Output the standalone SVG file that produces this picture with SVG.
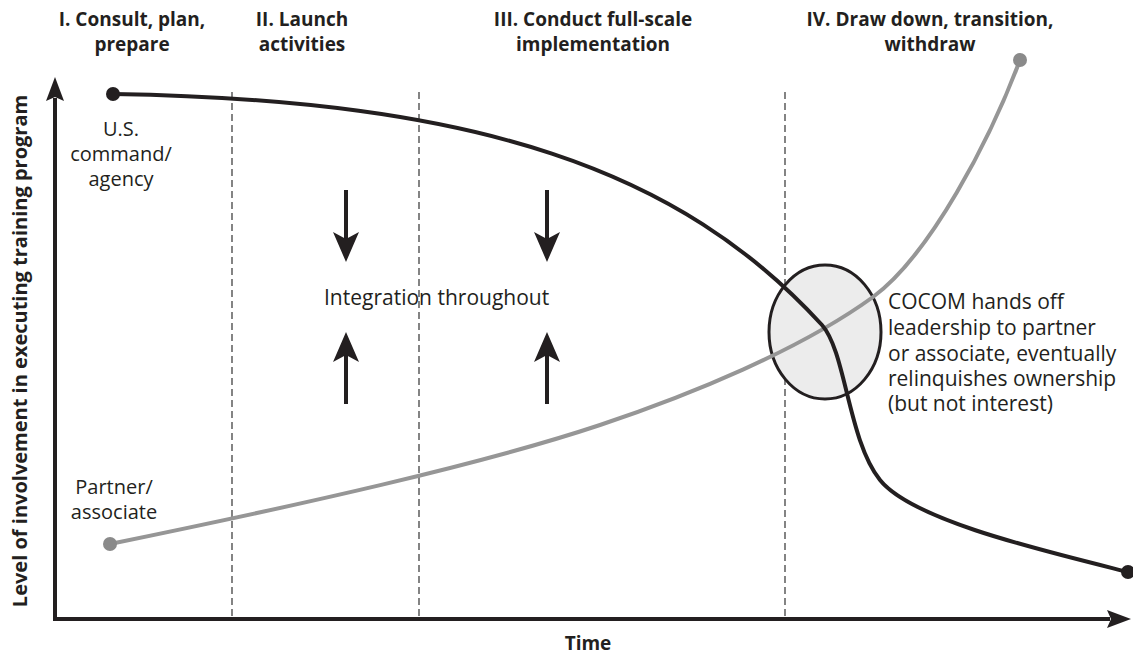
<svg xmlns="http://www.w3.org/2000/svg" width="1133" height="656" viewBox="0 0 1133 656">
<style>
.hdr{font-family:"Open Sans","Noto Sans",sans-serif;font-weight:bold;font-size:19px;fill:#231f20;text-anchor:middle}
.lbl{font-family:"Open Sans","Noto Sans",sans-serif;font-size:20px;fill:#231f20}
.big{font-size:21px}
.mid{text-anchor:middle}
.dash{stroke:#333;stroke-width:1.2;stroke-dasharray:7 4;fill:none}
.axis{stroke:#231f20;stroke-width:4;fill:none}
.blk{stroke:#231f20;stroke-width:4;fill:none}
.gry{stroke:#969696;stroke-width:4;fill:none}
.ah{fill:#231f20}
</style>
<defs>
<path id="headDown" d="M0,0 L-13,-30 L0,-23 L13,-30 Z"/>
<path id="headUp" d="M0,0 L-13,30 L0,23 L13,30 Z"/>
</defs>
<g id="phases">
<line class="dash" x1="232" y1="92" x2="232" y2="619"/>
<line class="dash" x1="419" y1="92" x2="419" y2="619"/>
<line class="dash" x1="785" y1="92" x2="785" y2="619"/>
</g>
<g id="headers">
<text class="hdr" x="132" y="26">I. Consult, plan,</text>
<text class="hdr" x="132" y="51">prepare</text>
<text class="hdr" x="302" y="26">II. Launch</text>
<text class="hdr" x="302" y="51">activities</text>
<text class="hdr" x="593" y="26">III. Conduct full-scale</text>
<text class="hdr" x="593" y="51">implementation</text>
<text class="hdr" x="930" y="26">IV. Draw down, transition,</text>
<text class="hdr" x="930" y="51">withdraw</text>
</g>
<g id="axes">
<path class="axis" d="M55,98 L55,619 L1110,619"/>
<path class="ah" d="M55,77 L64,101 L55,97 L46,101 Z"/>
<path class="ah" d="M1131,619 L1107,610 L1111,619 L1107,628 Z"/>
<text class="hdr" style="font-size:20px" transform="translate(27,351) rotate(-90)">Level of involvement in executing training program</text>
<text class="hdr" x="588" y="650">Time</text>
</g>
<g id="handoff">
<ellipse cx="825" cy="332" rx="56" ry="67" fill="#ececec" stroke="#231f20" stroke-width="3"/>
</g>
<g id="connectors">
<path id="partner-curve" class="gry" d="M110,544 C300,505 480,465 600,425 C690,395 800,350 873,297 C930,255 990,140 1020,60"/>
<path id="us-curve" class="blk" d="M113,94 C480,100 680,170 822,325 C846,352 848,440 880,480 C912,520 1040,550 1128,572"/>
<circle cx="113" cy="94" r="7" fill="#231f20"/>
<circle cx="1128" cy="572" r="7" fill="#231f20"/>
<circle cx="110" cy="544" r="7" fill="#8a8a8a"/>
<circle cx="1020" cy="60" r="7" fill="#8a8a8a"/>
</g>
<g id="us-label">
<text class="lbl mid" x="121" y="136">U.S.</text>
<text class="lbl mid" x="121" y="161">command/</text>
<text class="lbl mid" x="121" y="186">agency</text>
</g>
<g id="partner-label">
<text class="lbl mid" x="114" y="494">Partner/</text>
<text class="lbl mid" x="114" y="519">associate</text>
</g>
<g id="integration">
<line class="blk" x1="346" y1="190" x2="346" y2="240"/>
<use href="#headDown" class="ah" x="346" y="262"/>
<line class="blk" x1="547" y1="190" x2="547" y2="240"/>
<use href="#headDown" class="ah" x="547" y="262"/>
<line class="blk" x1="346" y1="354" x2="346" y2="404"/>
<use href="#headUp" class="ah" x="346" y="332"/>
<line class="blk" x1="547" y1="354" x2="547" y2="404"/>
<use href="#headUp" class="ah" x="547" y="332"/>
<text class="lbl big" x="324" y="305">Integration throughout</text>
</g>
<g id="cocom-note">
<text class="lbl big" x="888" y="309">COCOM hands off</text>
<text class="lbl big" x="888" y="335">leadership to partner</text>
<text class="lbl big" x="888" y="361">or associate, eventually</text>
<text class="lbl big" x="888" y="386">relinquishes ownership</text>
<text class="lbl big" x="888" y="411">(but not interest)</text>
</g>
</svg>
